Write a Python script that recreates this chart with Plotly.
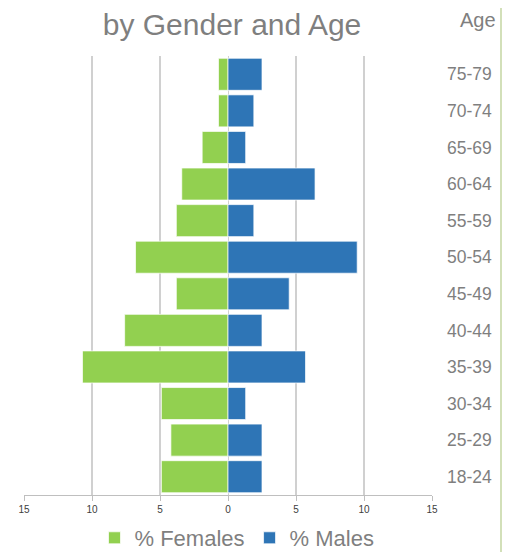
import plotly.graph_objects as go

age_groups = ["18-24", "25-29", "30-34", "35-39", "40-44", "45-49",
              "50-54", "55-59", "60-64", "65-69", "70-74", "75-79"]
pct_females = [4.9, 4.2, 4.9, 10.7, 7.6, 3.8, 6.8, 3.8, 3.4, 1.9, 0.7, 0.7]
pct_males = [2.5, 2.5, 1.3, 5.7, 2.5, 4.5, 9.5, 1.9, 6.4, 1.3, 1.9, 2.5]
tick_vals = [-15, -10, -5, 0, 5, 10, 15]
tick_text = ["15", "10", "5", "0", "5", "10", "15"]

FONT = "Liberation Sans, Arial, sans-serif"
GRAY = "#7f7f7f"

W, H = 502, 544          # page body has an 8px margin
L, R, T, B = 16, 78, 48, 57
PW, PH = W - L - R, H - T - B

fig = go.Figure()
fig.add_trace(go.Bar(
    y=age_groups, x=[-v for v in pct_females], orientation="h",
    name="% Females", marker=dict(color="#92d050", line=dict(color="rgba(255,255,255,0.7)", width=1)),
))
fig.add_trace(go.Bar(
    y=age_groups, x=pct_males, orientation="h",
    name="% Males", marker=dict(color="#2e75b6", line=dict(color="rgba(255,255,255,0.7)", width=1)),
))

fig.update_layout(
    width=W, height=H,
    margin=dict(l=L, r=R, t=T, b=B, autoexpand=False),
    paper_bgcolor="white", plot_bgcolor="white",
    barmode="overlay", bargap=0.125,
    font=dict(family=FONT, color=GRAY),
    title=dict(text="by Gender and Age", x=224 / W, xanchor="center",
               y=1 - 16 / H, yanchor="middle", yref="container",
               font=dict(size=30, color=GRAY, family=FONT)),
    showlegend=True,
    legend=dict(orientation="h", x=229 / W, xanchor="center", xref="container",
                y=1 - 530 / H, yanchor="middle", yref="container",
                font=dict(size=22, color=GRAY),
                itemwidth=30, tracegroupgap=0, traceorder="normal"),
    xaxis=dict(range=[-15, 15], tickvals=tick_vals, ticktext=tick_text,
               showgrid=True, gridcolor="#d0d0d0", gridwidth=1.5,
               zeroline=True, zerolinecolor="#d0d0d0", zerolinewidth=1,
               showline=True, linecolor="#bfbfbf", linewidth=1,
               ticks="outside", ticklen=5, tickcolor="#bfbfbf",
               tickfont=dict(size=10, color="#404040"), fixedrange=True),
    yaxis=dict(side="right", categoryorder="array", categoryarray=age_groups,
               showgrid=False, ticks="", ticklabelstandoff=14,
               tickfont=dict(size=17.5, color=GRAY)),
    annotations=[dict(text="Age", xref="paper", yref="paper",
                      x=(470 - L) / PW, y=(T + PH - 12) / PH,
                      xanchor="center", yanchor="middle", showarrow=False,
                      font=dict(size=20, color=GRAY))],
    shapes=[dict(type="line", xref="paper", yref="paper",
                 x0=(493 - L) / PW, x1=(493 - L) / PW,
                 y0=-0.14, y1=1.14, line=dict(color="#b5cc8a", width=1.2))],
)

fig.write_html("out.html")
